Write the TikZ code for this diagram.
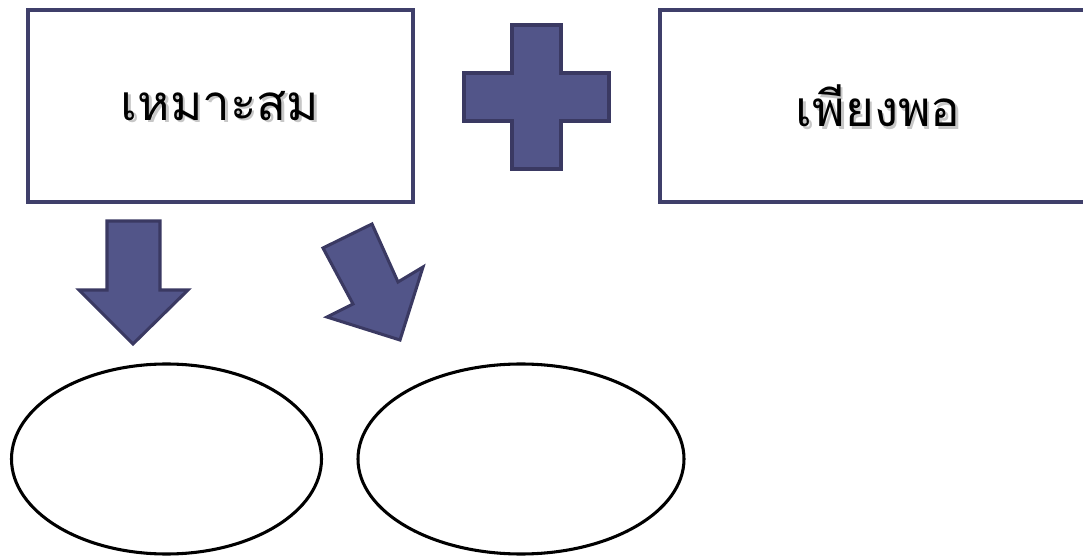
\documentclass[tikz,border=0pt]{standalone}
\usepackage{fontspec}
\newfontfamily\thaifont[Script=Thai]{Loma}
\begin{document}
\begin{tikzpicture}[x=0.75pt,y=-0.75pt,
  framebox/.style={draw=boxline,line width=2.3pt},
  blockshape/.style={draw=shapeline,fill=shapefill,line width=2.3pt,line join=miter},
  ovalshape/.style={draw=black,line width=2.3pt},
  lbl/.style={font=\thaifont\fontsize{37}{44}\selectfont,text=black},
  shad/.style={font=\thaifont\fontsize{37}{44}\selectfont,text=black!22}]
\definecolor{boxline}{HTML}{3F3F6A}
\definecolor{shapeline}{HTML}{3A3962}
\definecolor{shapefill}{HTML}{525589}
\useasboundingbox (0,0) rectangle (1083,556);
\path[framebox] (28,10) rectangle (413,202);
\path[framebox] (660,10) rectangle (1100,202);
\node[shad] at (222.5,108.5) {เหมาะสม};
\node[lbl] (t1) at (220,106) {เหมาะสม};
\node[shad] at (880.5,108.5) {เพียงพอ};
\node[lbl] (t2) at (878,106) {เพียงพอ};
\path[blockshape] (512,25) -- (561,25) -- (561,73) -- (609,73) -- (609,121) -- (561,121) -- (561,169) -- (512,169) -- (512,121) -- (464,121) -- (464,73) -- (512,73) -- cycle;
\path[blockshape] (107,221) -- (160,221) -- (160,290) -- (188,290) -- (133,344) -- (79,290) -- (107,290) -- cycle;
\path[blockshape] (323,248) -- (372,224) -- (398,282) -- (423,267) -- (400,340) -- (327,317) -- (353,304) -- cycle;
\draw[ovalshape] (166.5,459) ellipse [x radius=155, y radius=95];
\draw[ovalshape] (521,459) ellipse [x radius=163, y radius=95];
\end{tikzpicture}
\end{document}
